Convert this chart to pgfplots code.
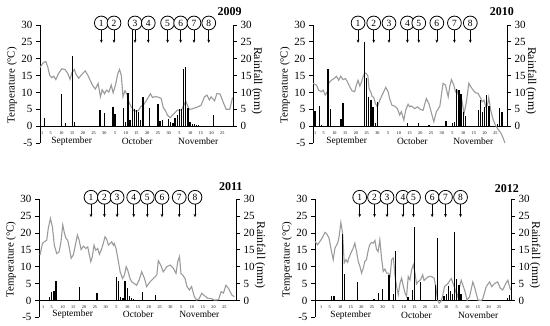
\documentclass[border=0pt]{standalone}
\usepackage{pgfplots}
\pgfplotsset{compat=1.18}
\usepackage{fontspec}
\setmainfont{Liberation Serif}
\usetikzlibrary{arrows.meta}
\definecolor{tline}{RGB}{155,155,155}

\pgfplotsset{
 tempax/.style={
  scale only axis, height=118pt,
  ymin=-5, ymax=30, ytick={-5,0,5,10,15,20,25,30},
  axis y line*=left, axis x line*=middle,
  hide obscured x ticks=false, hide obscured y ticks=false,
  tick align=outside, major tick length=4pt,
  xtick={1,5,10,15,20,25,30,35,40,45,50,55,60,65,70,75,80,85},
  xticklabels={1,5,10,15,20,25,30,5,10,15,20,25,30,5,10,15,20,25},
  xtick style={draw=none},
  xticklabel style={font=\fontsize{4.2}{5}\selectfont, inner sep=1pt},
  yticklabel style={font=\fontsize{11}{12}\selectfont},
  /pgf/number format/assume math mode=true,
  axis line style={line width=0.8pt},
  every tick/.style={black, line width=0.8pt},
  ylabel={Temperature (°C)},
  every axis y label/.style={at={(axis description cs:0,0.49)}, xshift=-28pt, rotate=90, anchor=center, font=\fontsize{10.8}{12}\selectfont},
  clip=false,
 },
 rainax/.style={
  scale only axis, height=101.14pt,
  ymin=0, ymax=30, ytick={0,5,10,15,20,25,30},
  axis y line*=right, axis x line=none,
  tick align=outside, major tick length=4pt,
  yticklabel style={font=\fontsize{11}{12}\selectfont},
  /pgf/number format/assume math mode=true,
  axis line style={line width=0.8pt},
  every tick/.style={black, line width=0.8pt},
  ylabel={Rainfall (mm)},
  every axis y label/.style={at={(axis description cs:1,0.45)}, xshift=24pt, rotate=-90, anchor=center, font=\fontsize{11.8}{13}\selectfont},
  clip=false,
 },
}
\newcommand{\mk}[2]{%
 \draw[line width=0.6pt,-{Stealth[length=3.2pt,width=2.8pt]}] (axis cs:#1,28.5) -- (axis cs:#1,24.7);
 \node[circle,draw,fill=white,line width=0.8pt,minimum size=13.8pt,inner sep=0pt,font=\fontsize{9.5}{10}\selectfont] at (axis cs:#1,30.6) {#2};}
\newcommand{\months}[4]{%
 \node[font=\fontsize{9.5}{10}\selectfont] at (axis cs:#1,#4) {September};
 \node[font=\fontsize{9.5}{10}\selectfont] at (axis cs:#2,#4) {October};
 \node[font=\fontsize{9.5}{10}\selectfont] at (axis cs:#3,#4) {November};}
\newcommand{\yr}[3]{\node[font=\bfseries\fontsize{12}{12}\selectfont] at (axis cs:#1,#2) {#3};}

\begin{document}
\begin{tikzpicture}[x=1pt,y=1pt]
\useasboundingbox (0,0) rectangle (550,326);

% ---------------- 2009 ----------------
\begin{axis}[tempax, at={(40pt,183pt)}, anchor=south west, width=193pt, xmin=0, xmax=90]
\addplot[tline, line width=1.1pt, mark=none] coordinates {
(0,17.4)(1.5,18.8)(2.7,19.2)(3.6,17.6)(4.5,15.1)(5.5,14.4)(6.4,14.8)(7.4,13.8)(8.6,15.6)(10.2,17.0)
(11.7,16.8)(13.0,15.6)(14.0,13.9)(14.9,15.9)(16.0,16.8)(16.8,15.4)(18.0,14.2)(19.6,15.4)(21.1,16.4)(22.4,15.0)
(23.5,13.5)(24.6,12.0)(25.8,11.0)(27.1,12.7)(28.2,8.7)(29.0,10.8)(30.1,9.6)(31.0,10.7)(32.1,10.1)(33.2,12.2)
(34.1,9.9)(35.2,12.2)(36.3,15.6)(37.1,16.8)(37.9,15.1)(38.7,8.7)(39.6,10.5)(40.5,9.5)(41.4,7.2)(42.3,6.0)
(43.8,4.5)(45.7,4.5)(47.0,5.8)(48.5,6.5)(50.0,8.0)(51.5,9.6)(52.5,8.5)(54.0,8.8)(55.5,8.5)(56.5,8.2)
(57.5,5.5)(58.4,4.7)(59.5,3.2)(60.7,2.5)(62.0,3.4)(64.0,4.7)(66.0,4.8)(68.0,7.4)(69.6,4.9)(71.2,5.2)
(73.6,5.7)(75.1,6.2)(76.7,8.7)(77.9,9.2)(79.0,7.8)(79.8,8.7)(81.4,7.5)(82.5,9.7)(84.0,9.5)(85.5,7.0)
(86.8,5.0)(88.5,5.0)(89.8,8.5)};
\mk{28.6}{1}\mk{34.5}{2}\mk{44.3}{3}\mk{50.5}{4}\mk{59.5}{5}\mk{65.6}{6}\mk{71.8}{7}\mk{78.7}{8}
\months{14.8}{45.3}{73.8}{-4.4}
\yr{88.4}{33.9}{2009}
\end{axis}
\begin{axis}[rainax, at={(40pt,199.86pt)}, anchor=south west, width=193pt, xmin=0, xmax=90]
\addplot[ycomb, black, line width=1.3pt, mark=none] coordinates {
(2,2.5)(10,9.5)(12,1.0)(15,20.8)(16,1.3)(28,4.7)(30,3.8)(34,5.7)(35,3.6)(39,5.5)(40,1.2)(41,9.8)(42,1.8)
(43,28.5)(44,5.0)(45,4.8)(46,4.3)(47,1.8)(48,8.5)(51,5.5)(55,6.5)(56,1.6)(57,1.8)(60,2.0)(61,1.3)(62,0.8)
(63,2.3)(64,3.3)(65,5.0)(66,5.2)(67,17.0)(68,17.5)(69,5.5)(70,1.3)(71,0.5)(72,0.6)(73,0.4)(74,0.3)(81,3.3)};
\end{axis}

% ---------------- 2010 ----------------
\begin{axis}[tempax, at={(313pt,183pt)}, anchor=south west, width=194pt, xmin=0, xmax=90.4]
\addplot[tline, line width=1.1pt, mark=none] coordinates {
(0,12.7)(1.6,12.2)(2.6,10.7)(3.9,10.2)(4.7,10.7)(5.7,9.2)(6.7,10.2)(7.3,12.7)(8.5,13.6)(9.8,14.1)
(10.9,14.8)(12.0,13.6)(12.9,14.8)(14.0,13.8)(15.1,14.1)(16.0,13.2)(17.1,11.7)(18.2,10.5)(19.4,10.2)(20.2,12.2)
(21.0,13.6)(21.8,11.9)(22.5,12.9)(23.3,14.6)(24.1,15.8)(24.9,15.6)(25.6,14.8)(26.1,11.2)(26.9,10.2)(27.5,8.9)
(28.3,8.5)(29.1,6.7)(30.0,5.7)(31.1,7.7)(32.6,9.7)(33.9,11.5)(35.0,10.2)(35.7,8.2)(36.8,6.2)(38.1,5.9)
(39.3,5.2)(40.4,3.3)(41.2,4.3)(42.3,1.8)(43.2,4.7)(44.3,6.5)(45.1,5.7)(45.8,6.0)(47.4,5.2)(48.7,5.7)
(50.2,4.9)(51.3,4.7)(52.8,8.2)(54.0,6.7)(55.2,3.9)(56.3,1.3)(57.5,4.3)(59.1,5.9)(60.6,12.7)(61.7,12.2)
(63.0,8.7)(63.7,11.7)(64.5,13.8)(65.6,12.2)(66.4,10.2)(67.1,10.7)(68.1,8.5)(69.2,8.2)(70.4,3.8)(71.5,7.2)
(72.6,12.7)(73.5,11.7)(74.6,10.7)(75.7,9.9)(76.9,9.7)(78.2,8.2)(78.8,7.2)(79.7,7.7)(80.5,5.7)(81.3,6.2)
(81.9,8.5)(82.8,4.7)(83.9,2.0)(85.0,0.3)(86.3,-1.0)(87.5,-2.0)(88.6,-3.5)(89.4,-5.0)};
\mk{21.0}{1}\mk{28.3}{2}\mk{35.4}{3}\mk{44.0}{4}\mk{49.3}{5}\mk{57.7}{6}\mk{65.9}{7}\mk{73.3}{8}
\months{15.7}{46.3}{74.7}{-4.4}
\yr{88}{33.9}{2010}
\end{axis}
\begin{axis}[rainax, at={(313pt,199.86pt)}, anchor=south west, width=194pt, xmin=0, xmax=90.4]
\addplot[ycomb, black, line width=1.3pt, mark=none] coordinates {
(1,4.5)(3,5.9)(4,0.4)(7,16.8)(8,5.2)(13,2.2)(14,6.9)(24,25.0)(25,14.4)(26,8.5)(27,7.7)(28,5.7)(29,0.8)(30,7.2)
(44,1.0)(49,0.8)(54,0.3)(62,1.5)(65,0.9)(66,1.3)(67,10.9)(68,10.7)(69,9.5)(70,4.3)(71,3.0)
(77,4.7)(78,7.7)(79,4.3)(80,5.7)(81,9.2)(82,5.9)(86,0.5)(87,5.5)(88,4.3)};
\end{axis}

% ---------------- 2011 ----------------
\begin{axis}[tempax, at={(39pt,8.7pt)}, anchor=south west, width=197pt, xmin=-0.9, xmax=90.4]
\addplot[tline, line width=1.1pt, mark=none] coordinates {
(-0.4,13.5)(0.7,16.9)(1.6,17.4)(2.7,17.9)(3.4,21.4)(4.4,24.3)(5.3,21.9)(6.2,16.4)(7.3,13.9)(8.4,14.4)
(9.3,17.4)(10.1,22.4)(10.9,19.9)(11.6,18.4)(12.4,17.9)(13.2,15.4)(14.0,12.5)(15.0,13.5)(15.8,15.9)(16.9,19.4)
(17.7,17.9)(18.6,15.1)(19.7,16.1)(20.8,15.4)(21.7,15.9)(22.3,13.9)(23.1,11.5)(23.8,13.0)(24.6,16.4)(25.4,14.9)
(26.3,15.4)(27.1,13.7)(27.9,14.9)(28.9,16.9)(29.7,18.9)(30.5,18.1)(31.3,16.4)(32.1,16.9)(32.8,17.4)(33.6,16.4)
(34.0,16.9)(34.8,15.4)(35.9,11.5)(36.7,8.5)(37.8,6.5)(38.7,7.5)(39.5,10.0)(40.2,9.0)(41.3,6.5)(42.1,5.5)
(43.3,5.0)(44.3,4.5)(45.5,6.0)(46.7,8.5)(48.0,6.5)(49.0,4.1)(50.5,5.5)(52.1,6.5)(53.7,7.5)(54.4,11.8)
(55.5,10.5)(56.7,8.5)(58.3,10.0)(59.9,10.5)(61.4,9.5)(62.6,8.0)(63.4,11.5)(64.2,13.0)(64.9,8.0)(65.7,7.5)
(66.8,6.5)(67.7,4.1)(68.8,3.1)(69.8,4.1)(71.1,1.1)(72.2,0.1)(73.3,0.5)(74.5,2.1)(76.0,1.3)(77.3,0.6)
(78.8,0.6)(80.4,0.1)(82.3,0.2)(83.5,2.6)(84.6,2.2)(85.7,4.5)(86.9,3.6)(88.5,1.6)(89.6,1.1)};
\mk{23.2}{1}\mk{29.4}{2}\mk{35.3}{3}\mk{43.0}{4}\mk{49.3}{5}\mk{56.1}{6}\mk{64.1}{7}\mk{71.4}{8}
\months{14.7}{45.1}{73.4}{-4.0}
\yr{88}{33.8}{2011}
\end{axis}
\begin{axis}[rainax, at={(39pt,25.56pt)}, anchor=south west, width=197pt, xmin=-0.9, xmax=90.4]
\addplot[ycomb, black, line width=1.3pt, mark=none] coordinates {
(4,1.0)(5,2.6)(6,2.8)(7,5.7)(18,4.1)(26,2.1)(35,7.0)(36,5.7)(37,1.0)(38,0.8)(39,5.7)(40,3.8)(41,1.2)(42,0.8)
(43,0.5)(47,2.6)(53,1.7)};
\end{axis}

% ---------------- 2012 ----------------
\begin{axis}[tempax, at={(315pt,8.7pt)}, anchor=south west, width=196pt, xmin=-1.9, xmax=90.6]
\addplot[tline, line width=1.1pt, mark=none] coordinates {
(-1.9,17.5)(-0.7,16.5)(0.4,17.5)(1.5,18.5)(2.8,20.2)(3.6,19.8)(4.7,18.5)(5.9,14.5)(6.7,12.1)(7.5,15.5)
(8.8,17.0)(9.5,19.0)(10.3,23.1)(11.1,20.0)(11.9,11.1)(12.7,12.1)(13.5,11.3)(14.1,12.6)(15.0,14.0)(16.1,15.5)
(16.9,17.0)(17.7,14.5)(18.5,11.6)(19.3,10.1)(20.1,8.1)(20.9,9.6)(21.6,11.6)(22.4,12.1)(23.2,14.8)(23.9,16.5)
(24.8,17.2)(25.6,17.0)(26.4,17.8)(27.1,15.2)(27.9,14.5)(28.7,18.0)(29.5,12.6)(30.3,8.6)(31.1,9.3)(31.9,8.1)
(32.7,8.1)(33.5,7.1)(34.3,12.1)(35.1,12.6)(35.9,7.1)(36.6,4.2)(37.4,1.7)(38.2,5.1)(39.0,6.6)(39.8,4.2)
(40.6,2.2)(41.3,1.2)(42.1,7.1)(42.9,6.1)(43.7,9.1)(44.5,10.6)(45.3,8.1)(46.0,4.9)(46.8,5.6)(47.9,6.1)
(48.9,7.6)(49.6,5.9)(50.7,6.6)(51.8,7.1)(53.1,7.1)(54.3,6.6)(55.1,4.2)(55.9,0.2)(56.7,-0.8)(57.5,-0.3)
(58.3,1.2)(59.2,4.1)(60.8,5.0)(62.4,6.5)(63.9,4.0)(65.2,1.1)(67.1,6.0)(68.7,3.1)(69.9,0.1)(71.0,1.0)
(72.6,5.5)(73.4,4.0)(75.0,0.1)(76.5,0.0)(77.3,0.5)(78.9,4.1)(80.5,5.5)(81.5,4.1)(82.8,5.0)(84.3,5.5)
(85.6,3.6)(86.7,3.1)(88.3,5.2)(89.1,6.0)(90.4,3.1)};
\mk{19.2}{1}\mk{26.2}{2}\mk{32.1}{3}\mk{39.6}{4}\mk{44.6}{5}\mk{53.4}{6}\mk{59.7}{7}\mk{66.8}{8}
\months{15.0}{46.0}{75.1}{-4.3}
\yr{88.6}{33.3}{2012}
\end{axis}
\begin{axis}[rainax, at={(315pt,25.56pt)}, anchor=south west, width=196pt, xmin=-1.9, xmax=90.6]
\addplot[ycomb, black, line width=1.3pt, mark=none] coordinates {
(6,1.3)(7,1.3)(11,19.6)(12,7.8)(18,5.4)(26,0.4)(28,2.3)(30,3.4)(33,7.5)(35,2.0)(36,14.7)(42,0.9)(44,3.0)
(45,21.7)(48,5.5)(55,4.5)(56,18.5)(59,1.2)(60,1.8)(61,4.2)(62,2.9)(63,1.9)(64,20.2)(65,6.3)(66,4.5)(67,2.0)
(89,0.6)(90,1.7)};
\end{axis}
\end{tikzpicture}
\end{document}
